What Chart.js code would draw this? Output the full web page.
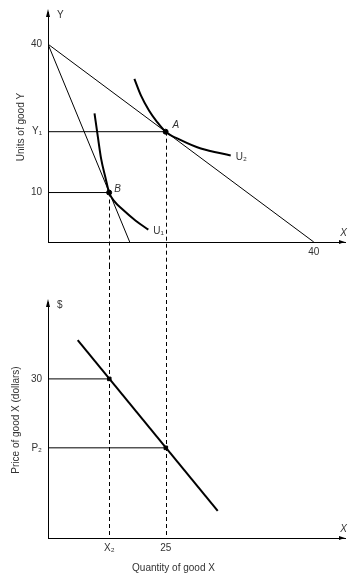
<!DOCTYPE html>
<html>
<head>
<meta charset="utf-8">
<script src="https://cdn.jsdelivr.net/npm/chart.js@4"></script>
<style>
  html, body { margin: 0; padding: 0; background: #fff; }
  #wrap { position: relative; width: 350px; height: 575px; }
  #wrap canvas { position: absolute; left: 0; }
  #top-chart { top: 0; }
  #bottom-chart { top: 265px; }
</style>
</head>
<body>
<div id="wrap">
  <canvas id="top-chart" width="350" height="265"></canvas>
  <canvas id="bottom-chart" width="350" height="310"></canvas>
</div>
<script>
// верхний график: бюджетные линии и кривые безразличия
const budgetWideX = [0, 40];
const budgetWideY = [40, 0];
const budgetSteepX = [0, 12.3];
const budgetSteepY = [40, 0];
const u2X = [13.0, 14.0, 15.2, 16.4, 17.7, 20.0, 23.0, 27.5];
const u2Y = [33.0, 29.6, 26.6, 24.3, 22.3, 20.6, 18.9, 17.5];
const u1X = [7.0, 7.5, 8.0, 8.65, 9.2, 10.0, 11.2, 13.2, 15.1];
const u1Y = [26.0, 21.3, 16.8, 13.0, 10.0, 8.2, 6.6, 4.3, 2.5];
const pointA = [17.7, 22.3];
const pointB = [9.2, 10];
const topXTicks = [40];
const topXLabels = ['40'];
const topYTicks = [10, 22.3, 40];
const topYLabels = ['10', 'Y₁', '40'];

// нижний график: кривая спроса
const demandX = [6.3, 36];
const demandY = [37.3, 5.1];
const demandPtsX = [13, 25];
const demandPtsY = [30, 17];
const bottomXTicks = [13, 25];
const bottomXLabels = ['X₂', '25'];
const bottomYTicks = [17, 30];
const bottomYLabels = ['P₂', '30'];

const FONT_FAMILY = '"Liberation Sans", Arial, sans-serif';
Chart.defaults.font.family = FONT_FAMILY;
Chart.defaults.font.size = 10;
Chart.defaults.color = '#333';

function lineSet(xs, ys, width, extra) {
    return Object.assign({
        data: xs.map((x, i) => ({ x: x, y: ys[i] })),
        showLine: true,
        borderColor: '#000',
        borderWidth: width,
        pointRadius: 0,
        fill: false
    }, extra || {});
}

function pointSet(xs, ys, style) {
    return {
        data: xs.map((x, i) => ({ x: x, y: ys[i] })),
        showLine: false,
        pointRadius: 2.5,
        pointStyle: style,
        backgroundColor: '#000',
        borderColor: '#000'
    };
}

function axis(min, max, ticks, labels, size, isX, title) {
    const s = {
        type: 'linear',
        min: min,
        max: max,
        grid: { display: false, drawTicks: false },
        border: { display: true, color: '#000', width: 1 },
        ticks: {
            autoSkip: false,
            maxRotation: 0,
            padding: isX ? 4 : 6,
            color: '#333',
            callback: v => labels[ticks.indexOf(v)]
        },
        afterBuildTicks: scale => { scale.ticks = ticks.map(v => ({ value: v })); },
        afterFit: scale => {
            if (isX) scale.height = size; else scale.width = size;
        }
    };
    if (title) s.title = title;
    return s;
}

// пунктирные вертикали от точек касания вниз к нижнему графику
const dropLines = {
    id: 'dropLines',
    afterDatasetsDraw(chart, args, opts) {
        const { ctx, scales } = chart;
        ctx.save();
        ctx.setLineDash([4, 3]);
        ctx.lineWidth = 1;
        ctx.strokeStyle = '#000';
        opts.xs.forEach((xv, i) => {
            const px = Math.round(scales.x.getPixelForValue(xv)) + 0.5;
            const y1 = opts.fromTop ? 0 : scales.y.getPixelForValue(opts.ys[i]);
            const y2 = opts.fromTop ? scales.y.getPixelForValue(0) : chart.height;
            ctx.beginPath();
            ctx.moveTo(px, y1);
            ctx.lineTo(px, y2);
            ctx.stroke();
        });
        ctx.restore();
    }
};

// подписи точек, кривых и стрелки осей
const notes = {
    id: 'notes',
    afterDraw(chart, args, opts) {
        const { ctx, chartArea: area, scales } = chart;
        ctx.save();
        ctx.fillStyle = '#000';
        // стрелка оси Y
        ctx.beginPath();
        ctx.moveTo(area.left, area.top - 3);
        ctx.lineTo(area.left - 2, area.top + 5);
        ctx.lineTo(area.left + 2, area.top + 5);
        ctx.closePath();
        ctx.fill();
        // стрелка оси X
        ctx.beginPath();
        ctx.moveTo(area.right, area.bottom);
        ctx.lineTo(area.right - 6, area.bottom - 2);
        ctx.lineTo(area.right - 6, area.bottom + 2);
        ctx.closePath();
        ctx.fill();

        ctx.fillStyle = '#333';
        ctx.textBaseline = 'middle';
        ctx.textAlign = 'left';
        ctx.font = '10px ' + FONT_FAMILY;
        ctx.fillText(opts.yName, area.left + 9, area.top + 3);
        ctx.textAlign = 'right';
        ctx.font = 'italic 10px ' + FONT_FAMILY;
        ctx.fillText('X', area.right + 2, area.bottom - 9);
        ctx.textAlign = 'left';
        (opts.items || []).forEach(it => {
            ctx.font = (it.italic ? 'italic ' : '') + '10px ' + FONT_FAMILY;
            const px = scales.x.getPixelForValue(it.at[0]) + it.dx;
            const py = scales.y.getPixelForValue(it.at[1]) + it.dy;
            ctx.fillText(it.text, px, py);
        });
        ctx.restore();
    }
};

new Chart(document.getElementById('top-chart'), {
    type: 'scatter',
    data: {
        datasets: [
            lineSet(budgetWideX, budgetWideY, 1),
            lineSet(budgetSteepX, budgetSteepY, 1),
            lineSet([0, pointA[0]], [pointA[1], pointA[1]], 1),
            lineSet([0, pointB[0]], [pointB[1], pointB[1]], 1),
            lineSet(u2X, u2Y, 2, { cubicInterpolationMode: 'monotone' }),
            lineSet(u1X, u1Y, 2, { cubicInterpolationMode: 'monotone' }),
            pointSet([pointA[0], pointB[0]], [pointA[1], pointB[1]], 'circle')
        ]
    },
    options: {
        responsive: false,
        animation: false,
        events: [],
        layout: { padding: { top: 5, right: 3, left: 0, bottom: 0 } },
        scales: {
            x: axis(0, 44.7, topXTicks, topXLabels, 23, true),
            y: axis(0, 46.5, topYTicks, topYLabels, 48, false, {
                display: true, text: 'Units of good Y', color: '#333',
                padding: { top: 15, bottom: 0 }
            })
        },
        plugins: {
            legend: { display: false },
            tooltip: { enabled: false },
            dropLines: { xs: [pointB[0], pointA[0]], ys: [pointB[1], pointA[1]], fromTop: false },
            notes: {
                yName: 'Y',
                items: [
                    { text: 'A', at: pointA, dx: 7, dy: -6, italic: true },
                    { text: 'B', at: pointB, dx: 5, dy: -3, italic: true },
                    { text: 'U₂', at: [u2X[u2X.length - 1], u2Y[u2Y.length - 1]], dx: 5, dy: 2 },
                    { text: 'U₁', at: [u1X[u1X.length - 1], u1Y[u1Y.length - 1]], dx: 5, dy: 2 }
                ]
            }
        }
    },
    plugins: [dropLines, notes]
});

new Chart(document.getElementById('bottom-chart'), {
    type: 'scatter',
    data: {
        datasets: [
            lineSet(demandX, demandY, 2),
            lineSet([0, demandPtsX[0]], [demandPtsY[0], demandPtsY[0]], 1),
            lineSet([0, demandPtsX[1]], [demandPtsY[1], demandPtsY[1]], 1),
            pointSet(demandPtsX, demandPtsY, 'rect')
        ]
    },
    options: {
        responsive: false,
        animation: false,
        events: [],
        layout: { padding: { top: 37, right: 3, left: 0, bottom: 0 } },
        scales: {
            x: axis(0, 63, bottomXTicks, bottomXLabels, 20, true),
            y: axis(0, 44.5, bottomYTicks, bottomYLabels, 48, false, {
                display: true, text: 'Price of good X (dollars)', color: '#333',
                padding: { top: 10, bottom: 0 }
            })
        },
        plugins: {
            legend: { display: false },
            tooltip: { enabled: false },
            title: {
                display: true,
                text: 'Quantity of good X',
                position: 'bottom',
                color: '#333',
                font: { size: 10, weight: 'normal' },
                padding: { top: 4, bottom: 1 }
            },
            dropLines: { xs: demandPtsX, fromTop: true },
            notes: { yName: '$', items: [] }
        }
    },
    plugins: [dropLines, notes]
});
</script>
</body>
</html>
